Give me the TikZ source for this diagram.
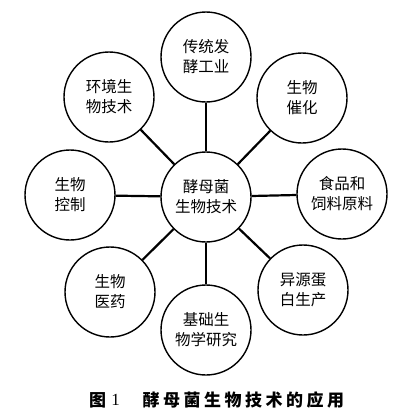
\documentclass[tikz,border=0pt]{standalone}
\usepackage{fontspec}
\newfontfamily\cjk{Noto Sans CJK SC}
\newfontfamily\capnum{Liberation Serif}
\begin{document}
\begin{tikzpicture}[x=1pt,y=-1pt,
  bub/.style={circle,draw,line width=1.4pt,fill=white,minimum size=90pt,inner sep=0pt,align=center,
    font=\cjk\fontsize{15.5}{20}\selectfont},
  link/.style={line width=2.2pt},
  captext/.style={inner sep=0pt,font=\cjk\bfseries\fontsize{17}{20}\selectfont}]
\useasboundingbox[fill=white] (0,0) rectangle (404,418);
\node[bub] (c)  at (206,197) {酵母菌\\生物技术};
\node[bub] (n)  at (206,57)  {传统发\\酵工业};
\node[bub] (nw) at (109,97)  {环境生\\物技术};
\node[bub] (ne) at (302,98)  {生物\\催化};
\node[bub] (w)  at (70,195)  {生物\\控制};
\node[bub] (e)  at (342,194) {食品和\\饲料原料};
\node[bub] (sw) at (110,292) {生物\\医药};
\node[bub] (se) at (303,290) {异源蛋\\白生产};
\node[bub] (s)  at (206,330) {基础生\\物学研究};
\foreach \t in {n,nw,ne,w,e,sw,se,s} \draw[link] (c) -- (\t);
\node[captext] (c1) at (97.5,400) {图};
\node[captext,font=\capnum\fontsize{17}{20}\selectfont] (c2) at (115.5,400) {1};
\node[captext,anchor=west] (c3) at (142.5,400) {酵\hspace{3.5pt}母\hspace{3.5pt}菌\hspace{3.5pt}生\hspace{3.5pt}物\hspace{3.5pt}技\hspace{3.5pt}术\hspace{3.5pt}的\hspace{3.5pt}应\hspace{3.5pt}用};
\end{tikzpicture}
\end{document}
